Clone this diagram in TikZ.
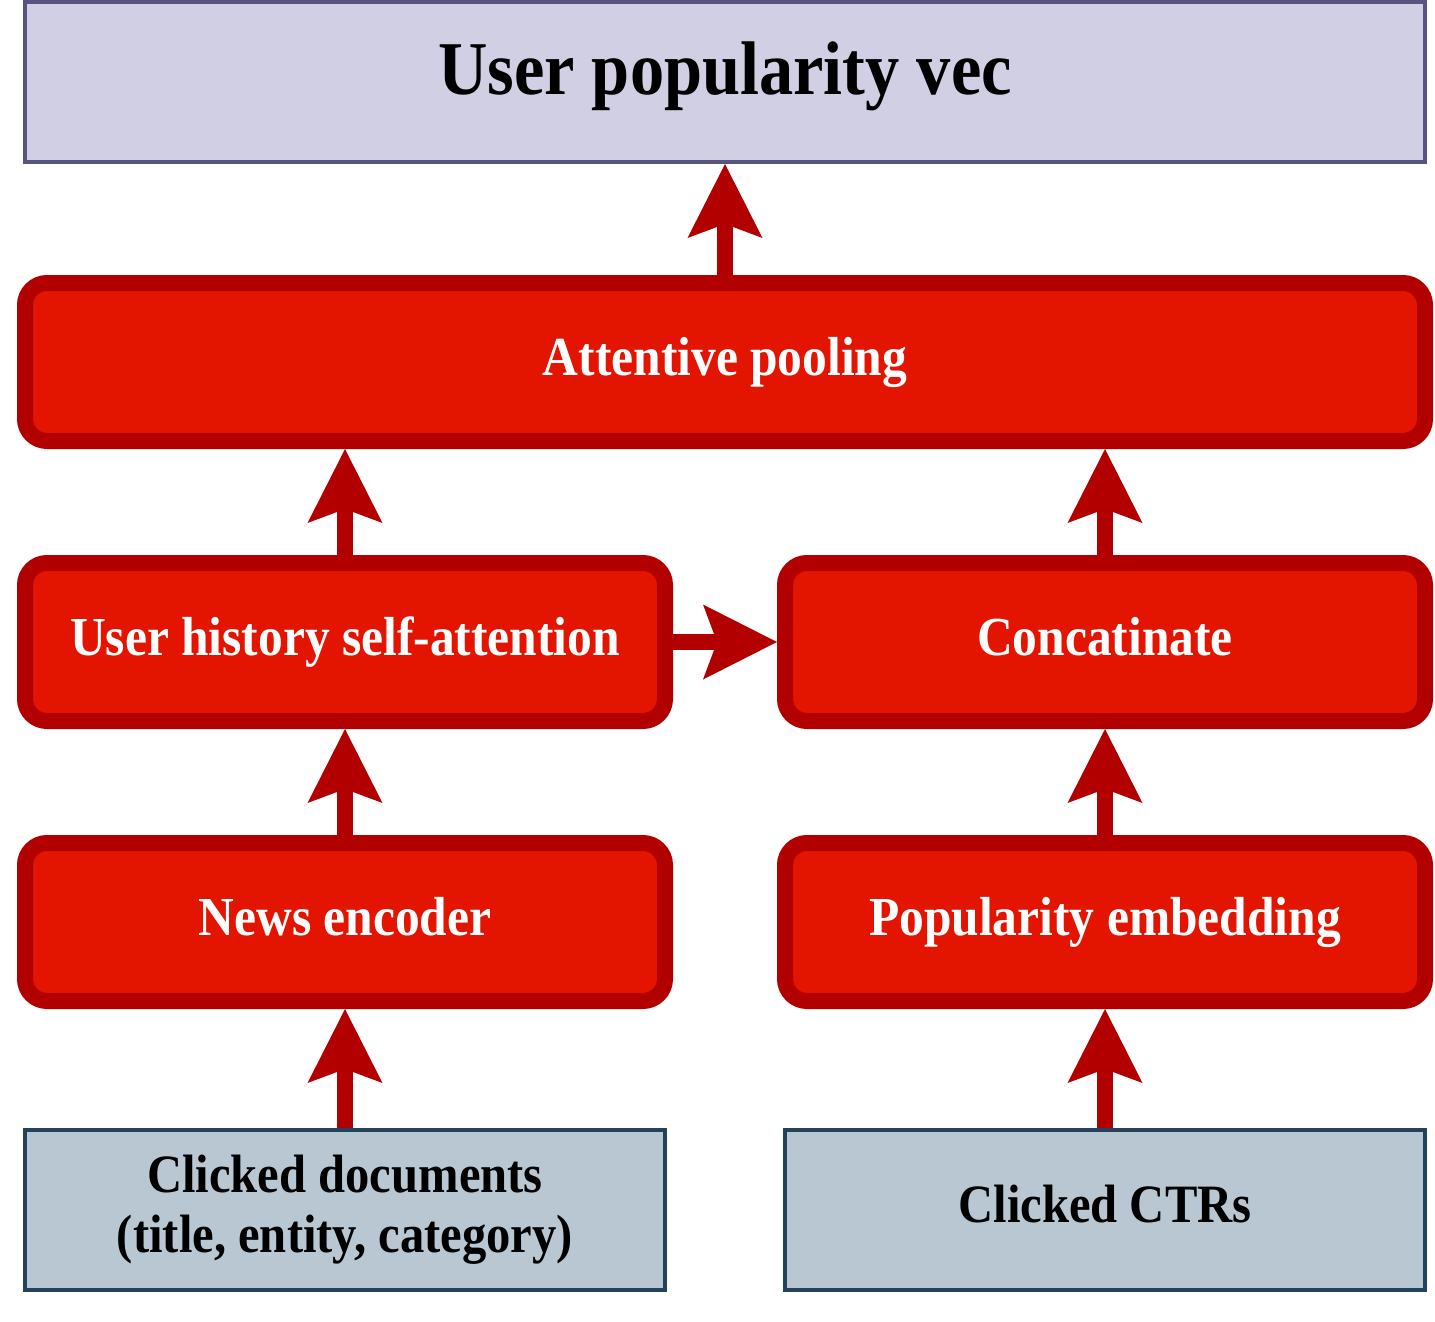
\documentclass[tikz,border=0pt]{standalone}
\usepackage{fontspec}
\setmainfont{Liberation Serif}
\newfontfamily\labelfont{Liberation Serif}[FakeStretch=0.9]
\usetikzlibrary{arrows.meta}
\definecolor{boxred}{HTML}{E31500}
\definecolor{edgered}{HTML}{B20000}
\definecolor{topfill}{HTML}{D0CFE3}
\definecolor{topedge}{HTML}{585482}
\definecolor{infill}{HTML}{B9C7D2}
\definecolor{inedge}{HTML}{24425B}
\tikzset{
  layer/.style={rectangle, rounded corners=22pt, draw=edgered, fill=boxred,
    line width=16pt, minimum width=640pt, minimum height=158pt,
    text=white, font=\labelfont\bfseries\fontsize{55}{60}\selectfont,
    text height=40pt, text depth=14pt, inner sep=0pt},
  inbox/.style={rectangle, draw=inedge, fill=infill, line width=4pt,
    minimum width=640pt, minimum height=160pt, align=center,
    font=\labelfont\bfseries\fontsize{54}{60}\selectfont, inner sep=0pt},
  outbox/.style={rectangle, draw=topedge, fill=topfill, line width=4pt,
    minimum width=1400pt, minimum height=160pt,
    font=\labelfont\bfseries\fontsize{76}{80}\selectfont,
    text height=40pt, text depth=14pt, inner sep=0pt},
  flow/.style={draw=edgered, line width=16pt,
    -{Stealth[length=74pt, width=75pt, inset=14pt, line width=0pt]}}
}
\begin{document}
\begin{tikzpicture}[x=1pt, y=-1pt]
\useasboundingbox (0,0) rectangle (1435,1322);

% output and model layers
\node[outbox] (out) at (725,82) {User popularity vec};
\node[layer, minimum width=1400pt] (pool) at (725,362) {Attentive pooling};
\node[layer] (hist) at (345,642) {User history self-attention};
\node[layer] (cat) at (1105,642) {Concatinate};
\node[layer] (news) at (345,922) {News encoder};
\node[layer] (pop) at (1105,922) {Popularity embedding};

% inputs
\node[inbox] (docs) at (345,1210) {Clicked documents\\(title, entity, category)};
\node[inbox, text height=38pt, text depth=14pt] (ctrs) at (1105,1210) {Clicked CTRs};

% data flow
\draw[flow] (docs.north) -- (news.south);
\draw[flow] (ctrs.north) -- (pop.south);
\draw[flow] (news.north) -- (hist.south);
\draw[flow] (pop.north) -- (cat.south);
\draw[flow] (hist.east) -- (cat.west);
\draw[flow] (hist.north) -- (hist.north |- pool.south);
\draw[flow] (cat.north) -- (cat.north |- pool.south);
\draw[flow] (pool.north) -- (out.south);
\end{tikzpicture}
\end{document}
